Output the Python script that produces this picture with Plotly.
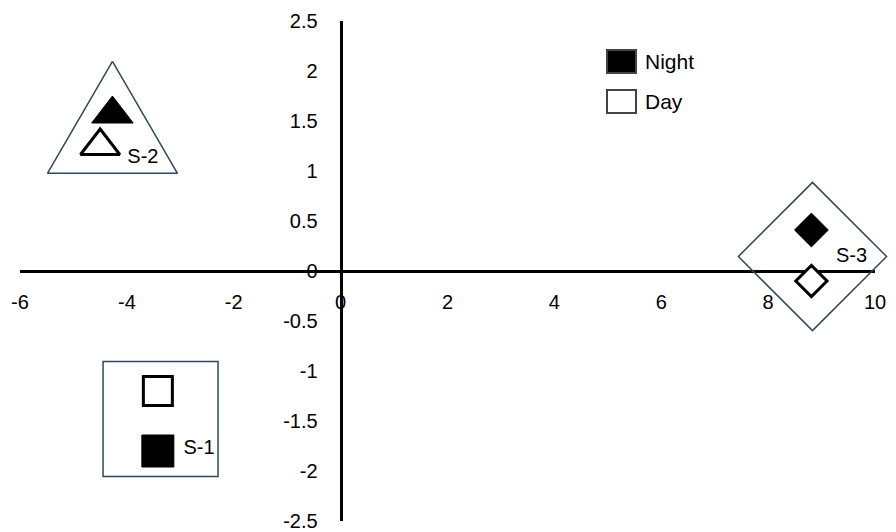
import plotly.graph_objects as go

# ---- data ----
sites = ["S-1", "S-2", "S-3"]
night_x = [-3.42, -4.27, 8.81]
night_y = [-1.80, 1.57, 0.41]
day_x = [-3.42, -4.50, 8.81]
day_y = [-1.20, 1.25, -0.10]
group_x = [-3.37, -4.27, 8.83]
group_y = [-1.48, 1.35, 0.145]
label_x = [-2.65, -3.70, 9.56]
label_y = [-1.78, 1.13, 0.14]
x_tickvals = [-6, -4, -2, 0, 2, 4, 6, 8, 10]
x_ticktext = ["-6", "-4", "-2", "0", "2", "4", "6", "8", "10"]
y_tickvals = [-2.5, -2, -1.5, -1, -0.5, 0, 0.5, 1, 1.5, 2, 2.5]
y_ticktext = ["-2.5", "-2", "-1.5", "-1", "-0.5", "0", "0.5", "1", "1.5", "2", "2.5"]
legend_names = ["Night", "Day"]

# ---- layout geometry (page body adds an 8px offset) ----
OFF = 8
W, H = 896 - OFF, 532 - OFF
ML, MR, MT, MB = 20 - OFF, 21, 21 - OFF, 11
XR = [-6, 10]
YR = [-2.5, 2.5]
px_per_x = (W - ML - MR) / (XR[1] - XR[0])
px_per_y = (H - MT - MB) / (YR[1] - YR[0])

FONT = "Liberation Sans, Arial, sans-serif"
ENC = "#2e4a5a"

symbols_fill = ["square", "triangle-up", "diamond"]

fig = go.Figure()

# enclosure for S-2 (equilateral triangle) built around its group centre
i = 1
half_w = 65 / px_per_x
h_top = 74.7 / px_per_y
h_base = 37.3 / px_per_y
tri_x = [group_x[i], group_x[i] - half_w, group_x[i] + half_w, group_x[i]]
tri_y = [group_y[i] + h_top, group_y[i] - h_base, group_y[i] - h_base, group_y[i] + h_top]
fig.add_trace(go.Scatter(x=tri_x, y=tri_y, mode="lines",
                         line=dict(color=ENC, width=1.5), hoverinfo="skip"))

# enclosures S-1 (square) and S-3 (diamond) as open markers
fig.add_trace(go.Scatter(
    x=[group_x[0], group_x[2]], y=[group_y[0], group_y[2]], mode="markers",
    marker=dict(symbol=["square-open", "diamond-open"], size=[115, 114],
                color=ENC, opacity=1, line=dict(width=1.5, color=ENC)),
    cliponaxis=False, hoverinfo="skip"))

# day markers (white with black outline)
fig.add_trace(go.Scatter(
    x=day_x, y=day_y, mode="markers", name="Day",
    marker=dict(symbol=symbols_fill, size=[29, 34, 24], color="white", opacity=1,
                line=dict(width=3, color="black")),
    cliponaxis=False))

# night markers (solid black)
fig.add_trace(go.Scatter(
    x=night_x, y=night_y, mode="markers", name="Night",
    marker=dict(symbol=symbols_fill, size=[32, 36, 26], color="black", opacity=1,
                line=dict(width=1, color="black")),
    cliponaxis=False))

# site labels
fig.add_trace(go.Scatter(
    x=label_x, y=label_y, mode="text", text=sites,
    textfont=dict(family=FONT, size=20, color="black"),
    textposition="middle center", cliponaxis=False, hoverinfo="skip"))

# custom legend
def px2paper_x(px):
    return (px - OFF - ML) / (W - ML - MR)

def px2paper_y(py):
    return (H - MB - (py - OFF)) / (H - MT - MB)

leg_rows = [61.5, 101.5]
leg_fill = ["black", "white"]
leg_line = ["#444444", "#444444"]
shapes = []
annotations = []
for name, cy, fc, lc in zip(legend_names, leg_rows, leg_fill, leg_line):
    shapes.append(dict(type="rect", xref="paper", yref="paper",
                       x0=px2paper_x(607), x1=px2paper_x(636),
                       y0=px2paper_y(cy + 11.5), y1=px2paper_y(cy - 11.5),
                       fillcolor=fc, line=dict(color=lc, width=2)))
    annotations.append(dict(xref="paper", yref="paper", x=px2paper_x(643),
                            y=px2paper_y(cy), text=name, showarrow=False,
                            xanchor="left", yanchor="middle",
                            font=dict(family=FONT, size=21, color="black")))

fig.update_layout(
    width=W, height=H,
    margin=dict(l=ML, r=MR, t=MT, b=MB, autoexpand=False),
    paper_bgcolor="white", plot_bgcolor="white",
    showlegend=False,
    font=dict(family=FONT, size=20, color="black"),
    shapes=shapes, annotations=annotations,
    xaxis=dict(range=XR, anchor="free", position=0.5, automargin=False,
               showline=True, linecolor="black", linewidth=3,
               showgrid=False, zeroline=False, ticks="",
               tickvals=x_tickvals, ticktext=x_ticktext,
               ticklabelstandoff=12, layer="below traces",
               tickfont=dict(family=FONT, size=20, color="black")),
    yaxis=dict(range=YR, anchor="free", position=(0 - XR[0]) / (XR[1] - XR[0]),
               automargin=False,
               showline=True, linecolor="black", linewidth=3,
               showgrid=False, zeroline=False, ticks="",
               tickvals=y_tickvals, ticktext=y_ticktext,
               ticklabelstandoff=18, layer="below traces",
               tickfont=dict(family=FONT, size=20, color="black")),
)

fig.write_html("out.html")
